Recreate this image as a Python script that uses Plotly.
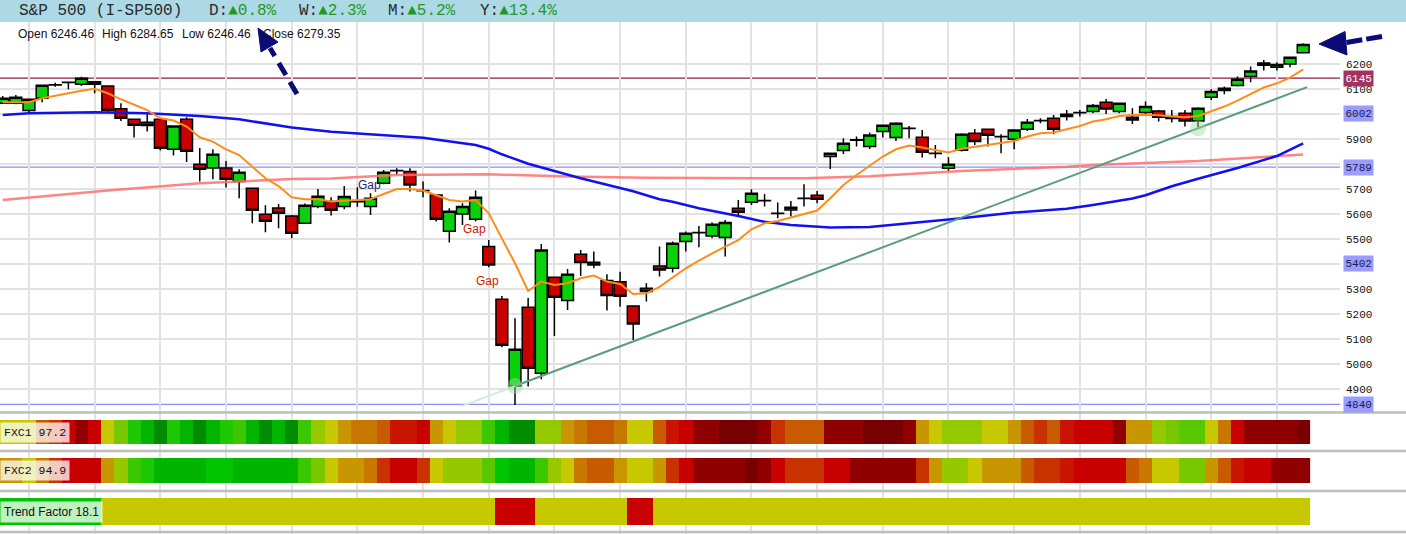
import plotly.graph_objects as go

# ---------------- data ----------------
TITLE = "S&P 500 (I-SP500)"
CHANGE_LABELS = ["D", "W", "M", "Y"]
CHANGE_VALUES = [0.8, 2.3, 5.2, 13.4]

OPEN = [6044, 6044, 6015, 6064, 6117, 6128, 6120, 6130, 6113, 6022,
        5980, 5968, 5980, 5860, 5980, 5800, 5785, 5785, 5731, 5704,
        5600, 5625, 5593, 5564, 5631, 5651, 5631, 5650, 5631, 5724,
        5774, 5771, 5695, 5677, 5532, 5601, 5580, 5471, 5260, 4913,
        5228, 4964, 5348, 5255, 5440, 5408, 5335, 5330, 5233, 5304,
        5393, 5384, 5491, 5527, 5513, 5507, 5624, 5648, 5655, 5604,
        5617, 5664, 5676, 5831, 5855, 5896, 5871, 5931, 5907, 5944,
        5908, 5844, 5784, 5856, 5924, 5940, 5911, 5900, 5940, 5975,
        5984, 5991, 6007, 6011, 6048, 6011, 5988, 6007, 6013, 5991,
        6004, 5973, 6068, 6104, 6115, 6151, 6196, 6188, 6201, 6246.46]
HIGH = [6073, 6077, 6060, 6116, 6126, 6130, 6150, 6131, 6114, 6044,
        5981, 6008, 5981, 5955, 5988, 5865, 5860, 5813, 5780, 5705,
        5636, 5641, 5597, 5643, 5701, 5668, 5713, 5708, 5684, 5777,
        5784, 5784, 5731, 5681, 5624, 5644, 5695, 5497, 5273, 5184,
        5265, 5481, 5351, 5381, 5457, 5451, 5360, 5370, 5234, 5324,
        5471, 5491, 5531, 5553, 5567, 5577, 5657, 5700, 5681, 5647,
        5653, 5720, 5693, 5844, 5904, 5911, 5927, 5956, 5968, 5953,
        5937, 5877, 5828, 5924, 5941, 5941, 5920, 5937, 5981, 5984,
        5997, 6017, 6017, 6041, 6061, 6044, 6024, 6051, 6017, 6017,
        6017, 6028, 6100, 6111, 6151, 6191, 6217, 6208, 6231, 6284.65]
LOW = [6041, 6040, 6004, 6048, 6110, 6100, 6113, 6084, 6006, 5973,
       5907, 5931, 5855, 5835, 5809, 5731, 5740, 5707, 5664, 5564,
       5528, 5544, 5504, 5561, 5624, 5595, 5620, 5630, 5597, 5720,
       5757, 5691, 5668, 5571, 5487, 5557, 5571, 5388, 5068, 4837,
       4911, 4940, 5113, 5217, 5353, 5384, 5215, 5230, 5097, 5251,
       5351, 5367, 5451, 5468, 5504, 5431, 5593, 5637, 5631, 5584,
       5591, 5631, 5644, 5781, 5841, 5871, 5861, 5907, 5893, 5904,
       5827, 5824, 5773, 5851, 5877, 5871, 5844, 5860, 5933, 5964,
       5920, 5975, 5991, 6004, 6001, 6004, 5961, 5997, 5971, 5967,
       5951, 5948, 6057, 6080, 6111, 6128, 6175, 6175, 6188, 6246.46]
CLOSE = [6064, 6068, 6060, 6116, 6118, 6127, 6144, 6120, 6015, 5984,
         5956, 5955, 5864, 5953, 5852, 5780, 5840, 5740, 5768, 5616,
         5572, 5604, 5524, 5636, 5672, 5616, 5671, 5652, 5664, 5768,
         5775, 5717, 5694, 5580, 5612, 5631, 5668, 5397, 5076, 5060,
         4984, 5457, 5268, 5360, 5407, 5397, 5275, 5272, 5161, 5291,
         5377, 5484, 5524, 5526, 5560, 5567, 5608, 5684, 5654, 5603,
         5628, 5663, 5660, 5844, 5884, 5898, 5917, 5956, 5964, 5943,
         5848, 5843, 5800, 5920, 5891, 5916, 5910, 5937, 5968, 5974,
         5940, 6000, 6006, 6035, 6021, 6044, 5977, 6031, 5988, 5983,
         5973, 6024, 6091, 6095, 6140, 6173, 6205, 6199, 6228, 6279.35]

MA_FAST = [6048, 6048, 6048, 6064, 6075, 6085, 6094, 6102, 6084, 6060,
           6037, 6017, 5984, 5975, 5951, 5908, 5891, 5860, 5837, 5791,
           5744, 5713, 5668, 5660, 5660, 5651, 5655, 5657, 5660, 5681,
           5701, 5701, 5695, 5676, 5657, 5651, 5657, 5604, 5504, 5404,
           5293, 5331, 5317, 5324, 5344, 5355, 5331, 5321, 5281, 5284,
           5310, 5347, 5384, 5415, 5444, 5471, 5497, 5540, 5564, 5573,
           5587, 5601, 5615, 5664, 5717, 5757, 5793, 5831, 5860, 5875,
           5867, 5857, 5847, 5862, 5869, 5877, 5884, 5893, 5911, 5924,
           5927, 5940, 5953, 5971, 5980, 5993, 5997, 5997, 5996, 5991,
           5988, 5993, 6013, 6031, 6055, 6080, 6107, 6124, 6147, 6180]

MA50_IDX = [0, 2, 7, 11, 15, 18, 22, 25, 32, 35, 36, 37, 38, 40, 42, 44, 48, 50,
            51, 53, 56, 58, 60, 63, 66, 70, 73, 77, 81, 83, 86, 87, 89, 91, 94, 97, 99]
MA50_VAL = [5997, 6004, 6008, 6004, 5993, 5980, 5947, 5930, 5906, 5885, 5877, 5862,
            5840, 5802, 5772, 5744, 5692, 5660, 5650, 5624, 5593, 5570, 5557, 5547,
            5549, 5568, 5584, 5607, 5622, 5637, 5663, 5676, 5712, 5742, 5785, 5833, 5884]

MA200_IDX = [0, 8, 15, 22, 25, 30, 37, 43, 49, 55, 61, 66, 71, 73, 81, 83, 91, 99]
MA200_VAL = [5657, 5695, 5724, 5741, 5743, 5757, 5760, 5751, 5746, 5744, 5744,
             5752, 5765, 5773, 5790, 5797, 5813, 5839]

LEVELS = [6145, 6002, 5789, 5402, 4840]
TREND_IDX = [39, 91]
TREND_VAL = [4913, 5944]
TREND_FAINT_START = 35
TREND_END = 99.3

GAP_IDX = [27.9, 35.9, 36.9]
GAP_VAL = [5717, 5541, 5333]

TICK_VALUES = [4900, 5000, 5100, 5200, 5300, 5400, 5500, 5600, 5700, 5800, 5900, 6000, 6100, 6200]
TICK_TEXT = ["4900", "5000", "5100", "5200", "5300", "", "5500", "5600", "5700", "", "5900", "", "6100", "6200"]

# indicator strips (level codes 0 = most bearish ... 16 = most bullish)
FXC1 = [8, 8, 8, 5, 4, 2, 1, 2, 8, 10, 13, 15, 16, 13, 15, 16, 15, 13, 12, 15,
        16, 15, 16, 12, 9, 8, 7, 6, 6, 5, 3, 3, 2, 7, 8, 9, 9, 12, 15, 16,
        16, 9, 9, 7, 6, 5, 5, 6, 8, 8, 5, 3, 2, 1, 1, 0, 0, 0, 1, 4,
        5, 5, 5, 1, 1, 1, 0, 0, 0, 1, 7, 8, 9, 9, 9, 8, 8, 7, 5, 4,
        5, 3, 2, 2, 2, 1, 7, 7, 9, 10, 11, 11, 8, 6, 2, 1, 1, 1, 1, 0]
FXC2 = [7, 7, 8, 6, 4, 2, 2, 2, 7, 9, 12, 13, 15, 15, 15, 15, 14, 14, 15, 15,
        15, 15, 15, 12, 10, 8, 7, 7, 6, 4, 2, 2, 4, 8, 9, 9, 9, 11, 14, 15,
        15, 12, 9, 8, 6, 5, 5, 7, 8, 8, 7, 4, 2, 1, 1, 1, 1, 0, 1, 2,
        4, 4, 4, 2, 2, 1, 1, 1, 1, 1, 4, 7, 9, 9, 8, 7, 7, 7, 5, 4,
        4, 3, 2, 2, 2, 2, 5, 6, 8, 8, 10, 10, 7, 5, 3, 2, 2, 1, 1, 1]
TREND_FACTOR = [14] * 8 + [8] * 30 + [2] * 3 + [8] * 7 + [2] * 2 + [8] * 50
INDICATOR_NAMES = ["FXC1", "FXC2", "Trend Factor"]
INDICATOR_VALUES = [97.2, 94.9, 18.1]

# ---------------- styles / layout constants ----------------
PALETTE = ["#780000", "#900000", "#c80000", "#c81400", "#c83200", "#c85a00",
           "#c87800", "#c89600", "#c8c800", "#96c800", "#78c800", "#5ac800",
           "#3cc800", "#1ec800", "#00c400", "#00b400", "#008c00"]

W, H = 1406, 534
PLOT_R = 1340          # right edge of plotting area (px)
TOP = 22               # header height (px)
MAIN_BOTTOM = 410      # bottom of price panel (px)
PH = H - TOP


def px(x):
    return x / PLOT_R


def py(y):
    return (H - y) / PH


# price axis: 6200 at y=64.3px, 4 points per px
Y_TOP = 6200 + (64.3 - TOP) * 4
Y_BOT = 6200 - (MAIN_BOTTOM - 64.3) * 4
X_SPACING = 13.136
X0_PX = 2.7
X_MIN = -X0_PX / X_SPACING
X_MAX = (PLOT_R - X0_PX) / X_SPACING

n = len(CLOSE)
idx = list(range(n))

fig = go.Figure()

# moving averages
fig.add_trace(go.Scatter(x=MA200_IDX, y=MA200_VAL, mode="lines",
                         line=dict(color="rgba(255,110,110,0.85)", width=2.5), hoverinfo="skip"))
fig.add_trace(go.Scatter(x=MA50_IDX, y=MA50_VAL, mode="lines",
                         line=dict(color="#1010f0", width=2.5), hoverinfo="skip"))
fig.add_trace(go.Scatter(x=idx, y=MA_FAST, mode="lines",
                         line=dict(color="#ff8c1a", width=2), hoverinfo="skip"))

# trend line through two anchors
slope = (TREND_VAL[1] - TREND_VAL[0]) / (TREND_IDX[1] - TREND_IDX[0])
faint_y = TREND_VAL[0] + slope * (TREND_FAINT_START - TREND_IDX[0])
end_y = TREND_VAL[0] + slope * (TREND_END - TREND_IDX[0])
fig.add_trace(go.Scatter(x=[TREND_FAINT_START, TREND_IDX[0]], y=[faint_y, TREND_VAL[0]],
                         mode="lines", line=dict(color="#d2ead9", width=2), hoverinfo="skip"))
fig.add_trace(go.Scatter(x=[TREND_IDX[0], TREND_END], y=[TREND_VAL[0], end_y],
                         mode="lines", line=dict(color="#5b9c80", width=2), hoverinfo="skip"))

# candles
fig.add_trace(go.Candlestick(
    x=idx, open=OPEN, high=HIGH, low=LOW, close=CLOSE,
    increasing=dict(line=dict(color="black", width=1.5), fillcolor="#0ad20a"),
    decreasing=dict(line=dict(color="black", width=1.5), fillcolor="#c80000"),
    whiskerwidth=0, hoverinfo="skip"))

# anchor markers on trend line
fig.add_trace(go.Scatter(x=TREND_IDX, y=TREND_VAL, mode="markers",
                         marker=dict(size=16, color="rgba(150,220,160,0.45)", line=dict(width=0)),
                         hoverinfo="skip"))

# indicator strips as one-row heatmaps with a stepped palette
npal = len(PALETTE)
colorscale = []
for k, c in enumerate(PALETTE):
    colorscale.append([k / npal, c])
    colorscale.append([(k + 1) / npal, c])
x_edges = [i - 0.5 for i in range(n + 1)]
STRIP_ROWS = [(420, 444), (458, 483), (498, 525)]
for series, (y0, y1) in zip([FXC1, FXC2, TREND_FACTOR], STRIP_ROWS):
    fig.add_trace(go.Heatmap(x=x_edges, y=[y0, y1], z=[series], zmin=-0.5, zmax=npal - 0.5,
                             colorscale=colorscale, showscale=False, xgap=0, ygap=0,
                             xaxis="x2", yaxis="y2", hoverinfo="skip"))

grid_vals = list(range(2, n, 5))
shapes = []
annotations = []

# header bar
shapes.append(dict(type="rect", xref="paper", yref="paper", x0=0, x1=px(W), y0=py(TOP), y1=py(0),
                   fillcolor="#add8e6", line=dict(width=0), layer="above"))
annotations.append(dict(xref="paper", yref="paper", x=px(17), y=py(11), xanchor="left", yanchor="middle",
                        text=TITLE, showarrow=False,
                        font=dict(family="Liberation Mono, Courier New, monospace", size=16, color="#2a2a2a")))
for lab, val, xp in zip(CHANGE_LABELS, CHANGE_VALUES, [207, 297, 386, 478]):
    annotations.append(dict(xref="paper", yref="paper", x=px(xp), y=py(11), xanchor="left", yanchor="middle",
                            text=f"{lab}:<span style='color:#1f9a1f'>▲{val:.1f}%</span>", showarrow=False,
                            font=dict(family="Liberation Mono, Courier New, monospace", size=16, color="#2a2a2a")))

# OHLC readout
ohlc = [("Open", OPEN[-1]), ("High", HIGH[-1]), ("Low", LOW[-1]), ("Close", CLOSE[-1])]
for (nm, v), xp in zip(ohlc, [16, 100, 180, 261]):
    annotations.append(dict(xref="paper", yref="paper", x=px(xp), y=py(34), xanchor="left", yanchor="middle",
                            text=f"{nm} {v:.2f}", showarrow=False,
                            font=dict(family="Liberation Sans, Arial, sans-serif", size=12, color="#111")))

# level lines and their labels
for lv in LEVELS:
    hot = lv == LEVELS[0]
    shapes.append(dict(type="line", xref="paper", yref="y", x0=0, x1=1, y0=lv, y1=lv,
                       line=dict(color="#8b1a4b" if hot else "#8c8cff", width=1.2), layer="below"))
    annotations.append(dict(xref="paper", yref="y", x=px(1343), y=lv, xanchor="left", yanchor="middle",
                            text=str(lv), showarrow=False, bgcolor="#a3325f" if hot else "#9a9cff",
                            borderpad=1.5,
                            font=dict(family="Liberation Mono, Courier New, monospace", size=11,
                                      color="#ffffff" if hot else "#1a1a50")))

# gap labels
for gi, gv, col in zip(GAP_IDX, GAP_VAL, ["#1c2470", "#d01a00", "#d01a00"]):
    annotations.append(dict(xref="x", yref="y", x=gi, y=gv, text="Gap", showarrow=False,
                            font=dict(family="Liberation Sans, Arial, sans-serif", size=12, color=col)))

# separators
for yy in [412.5, 451, 491, 532]:
    shapes.append(dict(type="line", xref="paper", yref="paper", x0=0, x1=px(W), y0=py(yy), y1=py(yy),
                       line=dict(color="#bdbdbd", width=2.5)))

# strip labels
for name, val, (y0, y1) in zip(INDICATOR_NAMES, INDICATOR_VALUES, STRIP_ROWS):
    mono = name != "Trend Factor"
    annotations.append(dict(xref="paper", yref="y2", x=0, y=(y0 + y1) / 2, xanchor="left", yanchor="middle",
                            text=f"{name} {val}", showarrow=False, bgcolor="rgba(255,255,255,0.75)",
                            borderpad=3,
                            font=dict(family=("Liberation Mono, Courier New, monospace" if mono
                                              else "Liberation Sans, Arial, sans-serif"),
                                      size=11.5 if mono else 12, color="#111")))

# dashed arrows (decorations)
NAVY = "#0b0b78"
shapes.append(dict(type="line", xref="paper", yref="paper", x0=px(297), y0=py(94), x1=px(270), y1=py(48),
                   line=dict(color=NAVY, width=5, dash="14px,8px")))
shapes.append(dict(type="path", xref="paper", yref="paper",
                   path=f"M {px(258)},{py(28)} L {px(278)},{py(42)} L {px(261)},{py(52)} Z",
                   fillcolor=NAVY, line=dict(color=NAVY, width=1)))
shapes.append(dict(type="line", xref="paper", yref="paper", x0=px(1382), y0=py(36.5), x1=px(1346), y1=py(42.5),
                   line=dict(color=NAVY, width=5, dash="16px,4px")))
shapes.append(dict(type="path", xref="paper", yref="paper",
                   path=f"M {px(1319)},{py(44)} L {px(1345)},{py(31.5)} L {px(1347)},{py(55)} Z",
                   fillcolor=NAVY, line=dict(color=NAVY, width=1)))

GRID = "#e2e2e2"
fig.update_layout(
    width=W, height=H,
    margin=dict(l=0, r=W - PLOT_R, t=TOP, b=0),
    paper_bgcolor="white", plot_bgcolor="white",
    showlegend=False, boxgap=0.1, boxgroupgap=0.0,
    xaxis=dict(domain=[0, 1], range=[X_MIN, X_MAX], anchor="y", tickvals=grid_vals, showticklabels=False,
               showgrid=True, gridcolor=GRID, gridwidth=2, zeroline=False, ticks="",
               rangeslider=dict(visible=False), fixedrange=True),
    yaxis=dict(domain=[py(MAIN_BOTTOM), 1], range=[Y_BOT, Y_TOP], side="right", tickvals=TICK_VALUES,
               ticktext=TICK_TEXT, showgrid=True, gridcolor=GRID, gridwidth=2, zeroline=False, ticks="",
               ticklabelstandoff=5,
               tickfont=dict(family="Liberation Mono, Courier New, monospace", size=11, color="#111")),
    xaxis2=dict(domain=[0, 1], range=[X_MIN, X_MAX], anchor="y2", matches="x", tickvals=grid_vals,
                showticklabels=False, showgrid=True, gridcolor=GRID, gridwidth=2, zeroline=False, ticks=""),
    yaxis2=dict(domain=[0, py(MAIN_BOTTOM)], range=[H, MAIN_BOTTOM], showgrid=False, showticklabels=False,
                zeroline=False, ticks=""),
    shapes=shapes, annotations=annotations,
)

fig.write_html("out.html", config={"displayModeBar": False},
               post_script="document.body.style.margin='0';document.body.style.overflow='hidden';")
